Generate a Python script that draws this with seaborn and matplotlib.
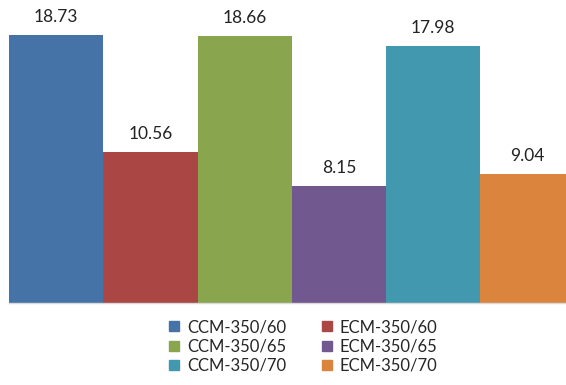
import pandas as pd
import seaborn as sns
import matplotlib.pyplot as plt

# values
samples = ["CCM-350/60", "ECM-350/60", "CCM-350/65", "ECM-350/65", "CCM-350/70", "ECM-350/70"]
values = [18.73, 10.56, 18.66, 8.15, 17.98, 9.04]
colors = ["#4572A7", "#AA4643", "#89A54E", "#71588F", "#4198AF", "#DB843D"]

df = pd.DataFrame({"sample": samples, "value": values})

sns.set_style("white")
plt.rcParams["font.family"] = ["Lato", "DejaVu Sans"]

fig = plt.figure(figsize=(5.66, 3.85), dpi=100)
ax = fig.add_axes([0.016, 0.213, 0.999, 0.743])

sns.barplot(data=df, x="sample", y="value", hue="sample", palette=colors,
            dodge=False, width=1.0, legend=False, ax=ax, saturation=1,
            linewidth=0, edgecolor="none")

for i, v in enumerate(values):
    ax.text(i, v + 0.7, f"{v:.2f}", ha="center", va="bottom", fontsize=12.5, color="#222222")

ax.set_xlim(-0.5, 5.5)
ax.set_ylim(0, 20)
ax.set_xticks([])
ax.set_yticks([])
ax.set_xlabel("")
ax.set_ylabel("")
for s in ["top", "right", "left"]:
    ax.spines[s].set_visible(False)
ax.spines["bottom"].set_color("#D9D9D9")
ax.spines["bottom"].set_linewidth(1)

# legend reads row by row in the reference, matplotlib fills by column
order = [0, 2, 4, 1, 3, 5]
handles = [plt.Line2D([], [], marker="s", linestyle="", color=colors[k], markersize=7) for k in order]
labels = [samples[k] for k in order]
fig.legend(handles, labels, loc="upper center", bbox_to_anchor=(0.533, 0.21), ncol=2,
           frameon=False, fontsize=12, handletextpad=0.3, columnspacing=1.9,
           labelspacing=0.2, handlelength=1.0)

fig.savefig("out.png", dpi=100)
